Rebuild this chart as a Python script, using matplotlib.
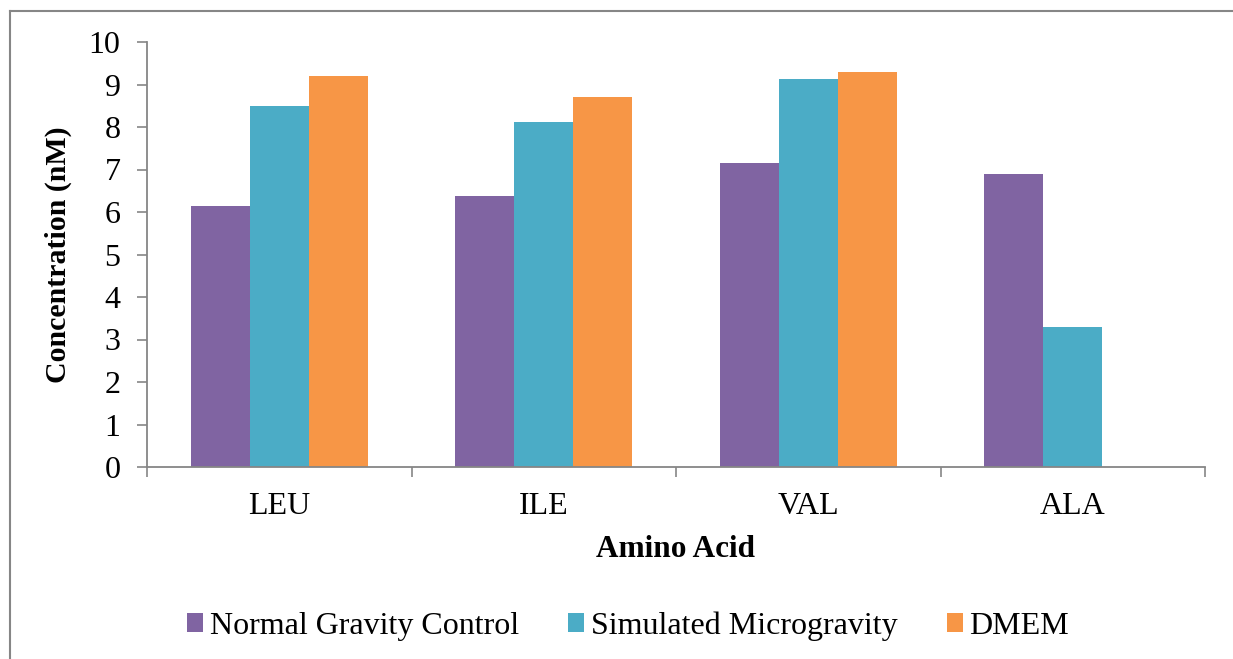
import matplotlib
matplotlib.use("Agg")
import matplotlib.pyplot as plt
import numpy as np
from matplotlib.lines import Line2D

categories = ["LEU", "ILE", "VAL", "ALA"]
normal_gravity = [6.14, 6.38, 7.15, 6.89]
simulated_micro = [8.49, 8.12, 9.13, 3.29]
dmem = [9.20, 8.71, 9.29, 0.0]

series_names = ["Normal Gravity Control", "Simulated Microgravity", "DMEM"]
series_colors = ["#8064A2", "#4BACC6", "#F79646"]

plt.rcParams["font.family"] = ["Liberation Serif", "DejaVu Serif"]
GRAY = "#868686"

fig = plt.figure(figsize=(12.33, 6.59), dpi=100)
ax = fig.add_axes([147 / 1233, 1 - 467 / 659, (1205 - 147) / 1233, (467 - 42) / 659])

x = np.arange(len(categories))
width = 0.223
for i, (vals, name, color) in enumerate(zip([normal_gravity, simulated_micro, dmem], series_names, series_colors)):
    ax.bar(x + (i - 1) * width, vals, width, color=color, label=name, zorder=2)

ax.set_xlim(-0.5, len(categories) - 0.5)
ax.set_ylim(0, 10)
ax.set_yticks(range(0, 11))
ax.tick_params(axis="y", labelsize=23, length=7, width=1.2, color=GRAY, pad=12)
ax.set_xticks(x)
ax.set_xticklabels(categories)
ax.tick_params(axis="x", which="major", length=0, labelsize=23, pad=18)
ax.set_xticks(np.arange(-0.5, len(categories)), minor=True)
ax.tick_params(axis="x", which="minor", length=7, width=1.2, color=GRAY)

for side in ("top", "right"):
    ax.spines[side].set_visible(False)
for side in ("left", "bottom"):
    ax.spines[side].set_color(GRAY)
    ax.spines[side].set_linewidth(1.3)

ax.set_xlabel("Amino Acid", fontsize=22.5, fontweight="bold", labelpad=10)
ax.set_ylabel("Concentration (nM)", fontsize=21.5, fontweight="bold", labelpad=12)

fig.legend(
    loc="center",
    bbox_to_anchor=(628 / 1233, 1 - 626 / 659),
    ncol=3,
    frameon=False,
    fontsize=23,
    handlelength=0.5,
    handleheight=0.5,
    handletextpad=0.2,
    columnspacing=1.55,
)

# outer chart border (top and left visible)
fig.add_artist(Line2D([10 / 1233, 1.0], [1 - 11 / 659] * 2, color=GRAY, lw=1.5))
fig.add_artist(Line2D([10 / 1233] * 2, [0, 1 - 11 / 659], color=GRAY, lw=1.5))

fig.savefig("out.png", dpi=100)
